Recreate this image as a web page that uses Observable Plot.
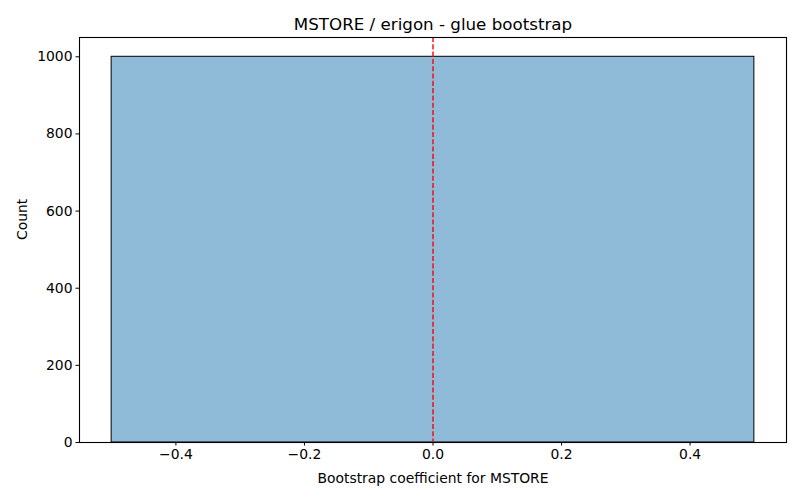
<!DOCTYPE html>
<html>
<head>
<meta charset="utf-8">
<script src="https://cdn.jsdelivr.net/npm/d3@7"></script>
<script src="https://cdn.jsdelivr.net/npm/@observablehq/plot@0.6"></script>
<style>
  body { margin: 0; background: white; }
  #chart svg { font-family: "DejaVu Sans", sans-serif; }
</style>
</head>
<body>
<div id="chart"></div>
<script>
const title = "MSTORE / erigon - glue bootstrap";
const xLabel = "Bootstrap coefficient for MSTORE";
const yLabel = "Count";
const binStart = [-0.5];
const binEnd = [0.5];
const counts = [1000];
const xTicks = [-0.4, -0.2, 0.0, 0.2, 0.4];
const yTicks = [0, 200, 400, 600, 800, 1000];
const refLine = [0];

const bins = binStart.map((s, i) => ({x1: s, x2: binEnd[i], y: counts[i]}));

const chart = Plot.plot({
  width: 800,
  height: 500,
  marginLeft: 79,
  marginRight: 14,
  marginTop: 37,
  marginBottom: 58,
  style: {fontFamily: "DejaVu Sans, sans-serif", fontSize: "13.9px", color: "black", background: "white"},
  x: {domain: [-0.55, 0.55]},
  y: {domain: [0, 1050]},
  marks: [
    Plot.rectY(bins, {x1: "x1", x2: "x2", y: "y", fill: "#1f77b4", fillOpacity: 0.5, stroke: "black", strokeWidth: 1, inset: 0}),
    Plot.ruleX(refLine, {stroke: "red", strokeWidth: 1.39, strokeDasharray: "5.1,2.2"}),
    Plot.frame({stroke: "black", strokeWidth: 1.1}),
    Plot.axisX({ticks: xTicks, tickFormat: d3.format(".1f"), tickSize: 3.5, tickPadding: 3.5, fontSize: 13.9, label: null, stroke: "black"}),
    Plot.axisY({ticks: yTicks, tickFormat: d3.format("d"), tickSize: 3.5, tickPadding: 3.5, fontSize: 13.9, label: null, stroke: "black"}),
    Plot.text([title], {frameAnchor: "top", dy: -8, lineAnchor: "bottom", fontSize: 16.7, fill: "black"}),
    Plot.text([xLabel], {frameAnchor: "bottom", dy: 40, lineAnchor: "bottom", fontSize: 13.9, fill: "black"}),
    Plot.text([yLabel], {frameAnchor: "left", dx: -57, rotate: -90, fontSize: 13.9, fill: "black"})
  ]
});
document.getElementById("chart").append(chart);
</script>
</body>
</html>
